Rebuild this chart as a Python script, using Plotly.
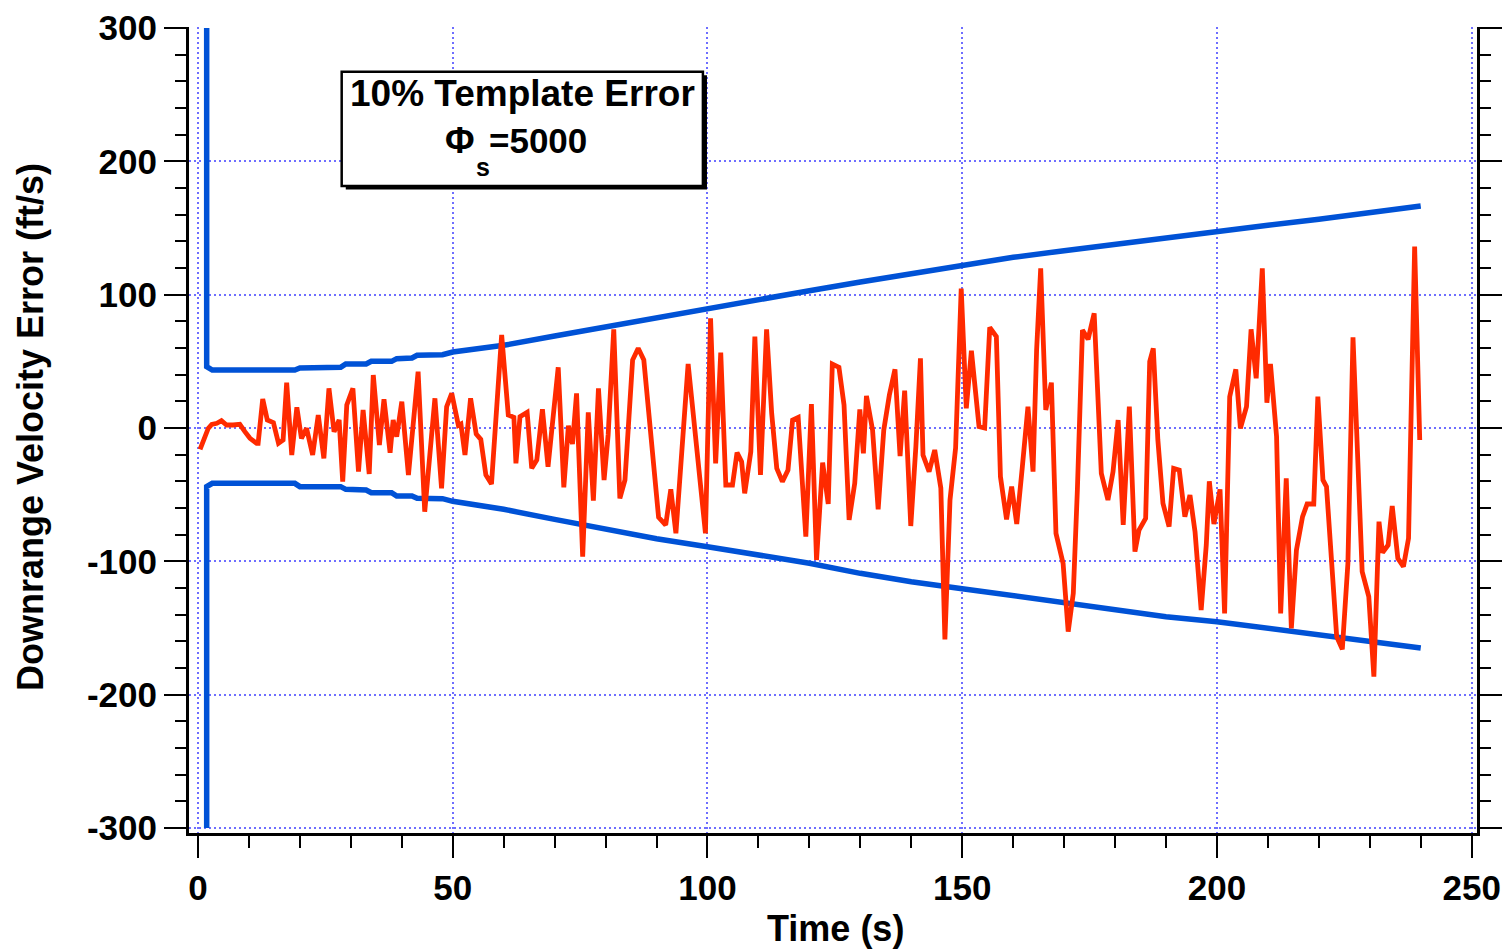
import plotly.graph_objects as go

# ---------------- data ----------------
red_t = [0.4, 2.0, 2.7, 3.7, 4.6, 5.6, 6.9, 8.2, 9.2, 10.2, 11.5, 11.8, 12.7, 13.6, 14.8, 15.8, 16.7, 17.4, 18.4, 19.4,
         20.3, 21.3, 22.5, 23.6, 24.7, 25.7, 26.7, 27.7, 28.4, 29.2, 30.4, 31.5, 32.4, 33.6, 34.4, 35.6, 36.5, 37.7, 38.3, 39.0,
         40.0, 41.3, 43.2, 44.5, 46.5, 47.8, 48.8, 49.8, 51.1, 51.6, 52.4, 53.5, 54.6, 55.5, 56.5, 57.6, 59.6, 60.9, 62.0, 62.4,
         63.2, 64.6, 65.5, 66.5, 67.6, 68.7, 70.7, 71.8, 72.7, 73.5, 74.3, 75.5, 76.6, 77.6, 78.6, 79.7, 80.5, 81.6, 82.8, 83.8,
         85.3, 86.4, 87.5, 90.4, 91.8, 92.8, 93.8, 94.7, 96.2, 99.6, 100.6, 101.6, 102.6, 103.6, 104.9, 105.8, 106.7, 107.3, 108.5, 109.3,
         110.4, 111.6, 112.6, 113.6, 114.7, 115.8, 116.7, 117.8, 119.3, 120.4, 121.4, 122.6, 123.7, 124.5, 125.8, 126.8, 127.8, 128.9, 129.9, 130.6,
         131.2, 132.4, 133.5, 134.6, 135.7, 136.8, 137.8, 138.7, 139.9, 140.9, 141.8, 142.3, 143.5, 144.6, 145.8, 146.6, 147.6, 148.7, 149.8, 150.8,
         151.8, 153.3, 154.4, 155.4, 156.7, 157.5, 158.7, 159.7, 160.7, 161.8, 162.9, 163.9, 164.6, 165.4, 166.4, 167.5, 168.4, 169.8, 170.8, 171.8,
         172.6, 173.6, 174.7, 175.9, 177.3, 178.6, 179.6, 180.6, 181.6, 182.8, 183.9, 184.7, 186.0, 186.8, 187.5, 188.4, 189.4, 190.6, 191.5, 192.6,
         193.7, 194.7, 195.7, 196.9, 197.9, 198.5, 199.4, 200.6, 201.5, 202.5, 203.7, 204.6, 205.8, 206.7, 207.7, 208.9, 209.8, 210.5, 211.7, 212.5,
         213.6, 214.6, 215.6, 216.8, 217.7, 219.0, 219.8, 220.8, 221.5, 222.7, 223.5, 224.6, 225.7, 226.7, 228.5, 229.8, 230.8, 231.8, 232.5, 233.6,
         234.4, 235.5, 236.6, 237.6, 238.8, 239.8]
red_v = [-16, -0.3, 2.75, 3.5, 5.5, 2.25, 2.25, 2.75, -2.75, -7.75, -11.5, -11.5, 21.75, 6, 4, -11.5, -9, 34, -20.25, 15.5,
         -7.75, -0.25, -20.25, 9.75, -22.75, 29.75, -2.75, 6, -40.25, 17.25, 29.75, -32.75, 13.5, -34.5, 39.75, -12.75, 21.5, -18.5, 6, -6.5,
         19.75, -35.25, 42.25, -62.75, 22.25, -45.25, 16, 26, 2, 3, -20.25, 22.25, -4.5, -8.5, -35.25, -42, 69.75, 9.75, 8, -26.5,
         8.5, 11.75, -30.25, -24, 14, -29, 45.5, -44.5, 1.75, -12, 26, -96.5, 11.75, -54.5, 29.75, -39, -5.25, 74, -52.75, -39,
         51, 59.75, 51, -67, -72.75, -46, -79, -31.5, 48, -79, 82.25, -26.5, 56.5, -42.75, -42.75, -18.5, -25.25, -49, -17.75, 68.5,
         -35.25, 74, 11, -30.25, -40.25, -31.5, 6, 8, -81.5, 18, -99, -26, -57, 48, 45.5, 17.25, -69, -41.5, 14, -19,
         24, -1.5, -61, -1.5, 24.75, 44, -21, 28, -73.5, -14, 52.25, -20.25, -32.75, -16.5, -45, -158.5, -54, -15, 104.5, 14.75,
         58, 1, 0, 75.5, 68.5, -36.5, -68.5, -44, -72, -29, 16, -32.75, 58.5, 119.75, 13.5, 34, -79, -101.5, -152.75, -124,
         -46.5, 73.5, 66.5, 86, -34, -54, -32.75, 6, -72.75, 16, -92.75, -76.5, -67.75, 49.75, 59.75, -9, -56.5, -74, -30.25, -31.5,
         -66.5, -50.25, -78, -136.5, -87.75, -40, -72, -46, -139, 23.5, 44, -0.25, 16, 74, 37.25, 119.75, 19, 48, -6.5, -139,
         -37.75, -150.25, -91.5, -66.5, -57, -57, 23.5, -39, -44, -111.5, -156.5, -166, -101.5, 68, -107.75, -126.5, -186.5, -70.25, -93.5, -87.75,
         -58.5, -97.75, -104, -82.75, 136, -9]

env_t = [1.7, 1.7, 2.8, 19, 20, 28, 29, 33, 34, 38, 39, 42, 43, 48, 50, 60, 70, 80, 90, 100, 110,
         120, 130, 140, 150, 160, 170, 180, 190, 200, 210, 220, 230, 240]
env_upper = [300, 46, 43.5, 43.5, 45, 45.5, 48, 48, 50, 50, 52, 52.5, 54.5, 55, 57, 62, 69, 76, 83, 90, 96.5,
             103, 109.5, 116, 122, 128, 133, 138, 143, 147, 152, 156.5, 161, 166.5]
env_lower = [-300, -44, -41.5, -41.5, -44, -44, -46, -46.5, -48.5, -48.5, -51, -51, -52.7, -53, -55, -61, -68.5, -76, -83, -89, -95.3,
             -101.5, -109, -115.3, -120.5, -126, -130.5, -136.5, -141.5, -145.3, -150.3, -154.5, -159.5, -165]

x_ticks = [0, 50, 100, 150, 200, 250]
x_labels = ["0", "50", "100", "150", "200", "250"]
y_ticks = [-300, -200, -100, 0, 100, 200, 300]
y_labels = ["-300", "-200", "-100", "0", "100", "200", "300"]

BLUE = "#0052d6"
RED = "#ff2a00"
GRID = "#6e6eff"
FONT = "Liberation Sans, Arial, Helvetica, sans-serif"

fig = go.Figure()
fig.add_trace(go.Scatter(x=env_t, y=env_upper, mode="lines", line=dict(color=BLUE, width=5.5), showlegend=False))
fig.add_trace(go.Scatter(x=env_t, y=env_lower, mode="lines", line=dict(color=BLUE, width=5.5), showlegend=False))
fig.add_trace(go.Scatter(x=red_t, y=red_v, mode="lines", line=dict(color=RED, width=4.8), showlegend=False))

axis_common = dict(
    ticks="outside", ticklen=22, tickwidth=2, tickcolor="black",
    showline=True, linewidth=3, linecolor="black",
    showgrid=True, gridcolor=GRID, gridwidth=2, griddash="2px,3px",
    zeroline=False, automargin=False,
    tickfont=dict(family=FONT, size=35, color="black", weight="bold"),
)

fig.update_layout(
    width=1507, height=950,
    margin=dict(l=189, r=30, t=27, b=117, pad=0, autoexpand=False),
    paper_bgcolor="white", plot_bgcolor="white",
    font=dict(family=FONT, color="black"),
    xaxis=dict(range=[-1.77, 251.04], tickvals=x_ticks, ticktext=x_labels, mirror=False,
               minor=dict(dtick=10, tick0=0, ticks="outside", ticklen=12, tickwidth=2, tickcolor="black", showgrid=False),
               **axis_common),
    yaxis=dict(range=[-303.75, 300.75], tickvals=y_ticks, ticktext=y_labels, mirror="ticks",
               minor=dict(dtick=20, tick0=0, ticks="outside", ticklen=11, tickwidth=2, tickcolor="black", showgrid=False),
               **axis_common),
)

# annotation box with shadow
fig.add_shape(type="rect", xref="x", yref="y", x0=29.0, x1=99.9, y0=178.9, y1=264.6,
              fillcolor="black", line=dict(color="black", width=0), layer="above")
fig.add_shape(type="rect", xref="x", yref="y", x0=28.2, x1=99.1, y0=181.5, y1=267.2,
              fillcolor="white", line=dict(color="black", width=2.5), layer="above")

fig.add_annotation(x=63.6, y=251.0, xref="x", yref="y", text="10% Template Error", showarrow=False,
                   font=dict(family=FONT, size=37, color="black", weight="bold"), xanchor="center", yanchor="middle")
fig.add_annotation(x=51.5, y=215.8, xref="x", yref="y", text="Φ", showarrow=False,
                   font=dict(family=FONT, size=36, color="black", weight="bold"), xanchor="center", yanchor="middle")
fig.add_annotation(x=66.8, y=215.8, xref="x", yref="y", text="=5000", showarrow=False,
                   font=dict(family=FONT, size=35, color="black", weight="bold"), xanchor="center", yanchor="middle")
fig.add_annotation(x=55.9, y=196.1, xref="x", yref="y", text="s", showarrow=False,
                   font=dict(family=FONT, size=25, color="black", weight="bold"), xanchor="center", yanchor="middle")

# axis titles
fig.add_annotation(x=0.5016, y=-0.1190, xref="paper", yref="paper", text="Time (s)", showarrow=False,
                   font=dict(family=FONT, size=36, color="black", weight="bold"), xanchor="center", yanchor="middle")
fig.add_annotation(x=-0.1234, y=0.5037, xref="paper", yref="paper", text="Downrange Velocity Error (ft/s)",
                   textangle=-90, showarrow=False,
                   font=dict(family=FONT, size=36, color="black", weight="bold"), xanchor="center", yanchor="middle")

fig.write_html("out.html")
